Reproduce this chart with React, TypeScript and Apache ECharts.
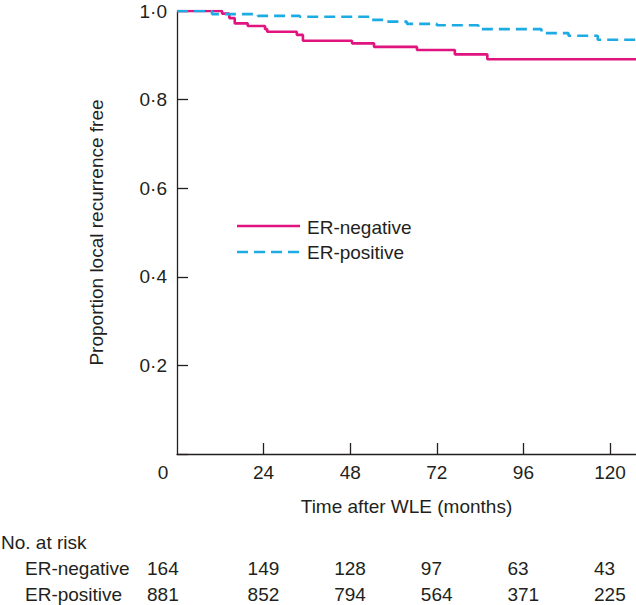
import React, { useEffect, useRef } from "react";
import * as echarts from "echarts";

const FONT = '"Liberation Sans", Arial, Helvetica, sans-serif';
const INK = "#231f20";
const PINK = "#e0137f";
const BLUE = "#1cabe2";

// Kaplan-Meier steps (months, proportion free)
const erNegTimes = [0, 12.5, 14.5, 16, 19.6, 24.4, 25, 33.2, 34.9, 48.5, 54.6, 66.5, 77, 86, 127.2];
const erNegSurv = [1.0, 0.994, 0.984, 0.972, 0.966, 0.959, 0.953, 0.946, 0.933, 0.927, 0.919, 0.912, 0.902, 0.891, 0.891];
const erPosTimes = [0, 9.7, 22.4, 34, 53.5, 57.6, 63.7, 72, 83.5, 101, 108.5, 116.6, 127.2];
const erPosSurv = [1.0, 0.993, 0.989, 0.987, 0.98, 0.976, 0.971, 0.968, 0.959, 0.95, 0.944, 0.935, 0.935];

const seriesNames = ["ER-negative", "ER-positive"];
const xTickValues = [24, 48, 72, 96, 120];
const xLabelValues = [0, 24, 48, 72, 96, 120];
const atRiskTimes = [0, 24, 48, 72, 96, 120];
const atRiskNeg = [164, 149, 128, 97, 63, 43];
const atRiskPos = [881, 852, 794, 564, 371, 225];

export default function App() {
  const ref = useRef<HTMLDivElement>(null);
  useEffect(() => {
    if (!ref.current) return;
    const chart = echarts.init(ref.current, null, { renderer: "svg" });
    const axisLineStyle = { color: INK, width: 1.3 };
    chart.setOption({
      animation: false,
      backgroundColor: "#ffffff",
      textStyle: { fontFamily: FONT, color: INK },
      grid: { left: 177, right: 0, top: 11, bottom: 151, containLabel: false },
      xAxis: {
        type: "value",
        min: 0,
        max: 127.2,
        interval: 24,
        name: "Time after WLE (months)",
        nameLocation: "middle",
        nameGap: 43,
        nameTextStyle: { fontSize: 19, color: INK, fontFamily: FONT },
        axisLine: { show: true, lineStyle: axisLineStyle },
        axisTick: { show: true, inside: true, length: 11, lineStyle: axisLineStyle, customValues: xTickValues },
        axisLabel: {
          customValues: xLabelValues,
          fontSize: 19,
          color: INK,
          fontFamily: FONT,
          margin: 9,
          formatter: (v: number) => (v === 0 ? "{z|0}" : String(v)),
          rich: { z: { fontSize: 19, color: INK, fontFamily: FONT, padding: [0, 28, 0, 0] } },
        },
        splitLine: { show: false },
      },
      yAxis: {
        type: "value",
        min: 0,
        max: 1,
        interval: 0.2,
        name: "Proportion local recurrence free",
        nameLocation: "middle",
        nameGap: 71,
        nameTextStyle: { fontSize: 19, color: INK, fontFamily: FONT },
        axisLine: { show: true, lineStyle: axisLineStyle },
        axisTick: { show: true, inside: true, length: 11, lineStyle: axisLineStyle },
        axisLabel: {
          fontSize: 19,
          color: INK,
          fontFamily: FONT,
          margin: 10,
          formatter: (v: number) => (v === 0 ? "" : v.toFixed(1).replace(".", "·")),
        },
        splitLine: { show: false },
      },
      series: [
        {
          name: seriesNames[0],
          type: "line",
          step: "end",
          symbol: "none",
          showSymbol: false,
          data: erNegTimes.map((t, i) => [t, erNegSurv[i]]),
          lineStyle: { color: PINK, width: 2.6 },
          itemStyle: { color: PINK },
          z: 2,
        },
        {
          name: seriesNames[1],
          type: "line",
          step: "end",
          symbol: "none",
          showSymbol: false,
          data: erPosTimes.map((t, i) => [t, erPosSurv[i]]),
          lineStyle: { color: BLUE, width: 2.6, type: [11, 6] },
          itemStyle: { color: BLUE },
          z: 3,
        },
      ],
    });

    const px = (t: number) => chart.convertToPixel({ xAxisIndex: 0 }, t) as number;
    const txt = (text: string, x: number, y: number) => ({
      type: "text",
      x,
      y,
      style: { text, fill: INK, fontSize: 19, fontFamily: FONT, align: "left", verticalAlign: "middle" },
    });
    const graphics: any[] = [
      { type: "line", shape: { x1: 237, y1: 226, x2: 300, y2: 226 }, style: { stroke: PINK, lineWidth: 2.6 } },
      { type: "line", shape: { x1: 237, y1: 252, x2: 300, y2: 252 }, style: { stroke: BLUE, lineWidth: 2.6, lineDash: [11, 6] } },
      txt(seriesNames[0], 307, 227),
      txt(seriesNames[1], 307, 252),
      txt("No. at risk", 1, 542),
      txt(seriesNames[0], 25, 568),
      txt(seriesNames[1], 25, 594),
    ];
    atRiskTimes.forEach((t, i) => {
      const x = px(t) - (t === 0 ? 30 : 16);
      graphics.push(txt(String(atRiskNeg[i]), x, 568));
      graphics.push(txt(String(atRiskPos[i]), x, 594));
    });
    chart.setOption({ graphic: graphics });

    return () => chart.dispose();
  }, []);
  return <div ref={ref} style={{ position: "absolute", left: 0, top: 0, width: 636, height: 605 }} />;
}
